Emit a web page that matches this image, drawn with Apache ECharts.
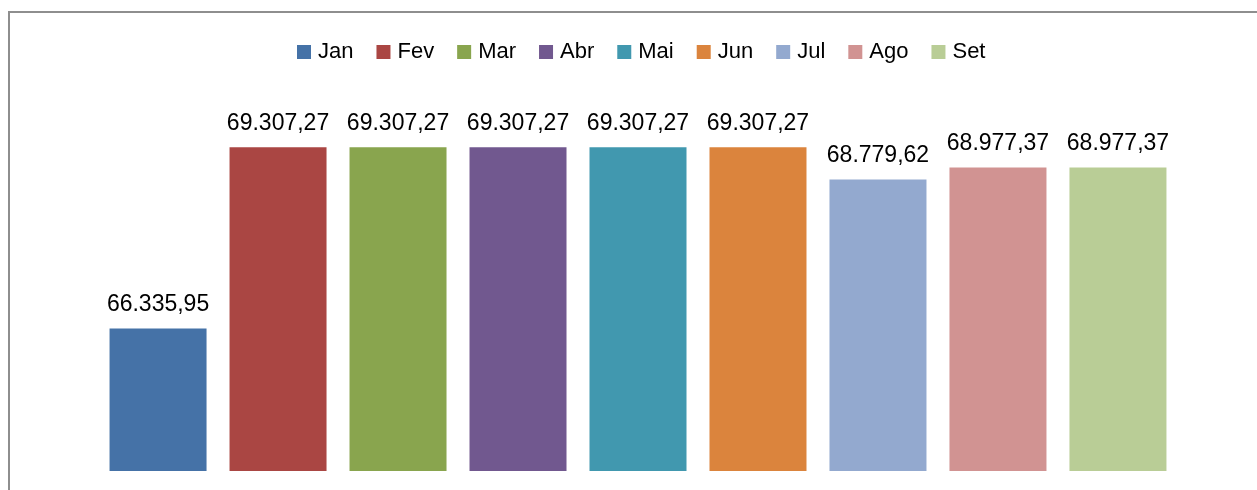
<!DOCTYPE html>
<html>
<head>
<meta charset="utf-8">
<script src="https://cdn.jsdelivr.net/npm/echarts@6/dist/echarts.min.js"></script>
<style>
  html, body { margin: 0; padding: 0; background: #ffffff; }
  #chart { width: 1257px; height: 490px; }
</style>
</head>
<body>
<div id="chart"></div>
<script>
// meses e valores (um série por mês, como no gráfico original)
const months = ['Jan', 'Fev', 'Mar', 'Abr', 'Mai', 'Jun', 'Jul', 'Ago', 'Set'];
const values = [66335.95, 69307.27, 69307.27, 69307.27, 69307.27, 69307.27, 68779.62, 68977.37, 68977.37];
const colors = ['#4572A7', '#AA4643', '#89A54E', '#71588F', '#4198AF', '#DB843D', '#93A9CF', '#D19392', '#B9CD96'];

// formato brasileiro: 69.307,27
function fmtBR(v) {
  const parts = v.toFixed(2).split('.');
  const intPart = parts[0].replace(/\B(?=(\d{3})+(?!\d))/g, '.');
  return intPart + ',' + parts[1];
}

const chart = echarts.init(document.getElementById('chart'));

const option = {
  animation: false,
  color: colors,
  textStyle: { fontFamily: 'Liberation Sans, Arial, sans-serif' },
  graphic: [{
    type: 'rect',
    shape: { x: 9, y: 12, width: 1300, height: 600 },
    style: { fill: 'none', stroke: '#8e8e8e', lineWidth: 2 },
    silent: true
  }],
  legend: {
    data: months,
    top: 36,
    left: 292,
    itemWidth: 14,
    itemHeight: 14,
    itemGap: 23,
    icon: 'rect',
    textStyle: { fontSize: 22, color: '#000000', padding: [0, 0, 0, 2] }
  },
  grid: { left: 20, right: 1, top: 105, bottom: 19 },
  xAxis: {
    type: 'category',
    data: [''],
    axisLine: { show: false },
    axisTick: { show: false },
    axisLabel: { show: false }
  },
  yAxis: {
    type: 'value',
    min: 64000,
    max: 70000,
    show: false,
    splitLine: { show: false }
  },
  series: months.map((m, i) => ({
    name: m,
    type: 'bar',
    data: [values[i]],
    barWidth: 97,
    barGap: '23.7%',
    label: {
      show: true,
      position: 'top',
      distance: 12,
      fontSize: 23,
      color: '#000000',
      formatter: p => fmtBR(p.value)
    }
  }))
};

chart.setOption(option);
</script>
</body>
</html>
